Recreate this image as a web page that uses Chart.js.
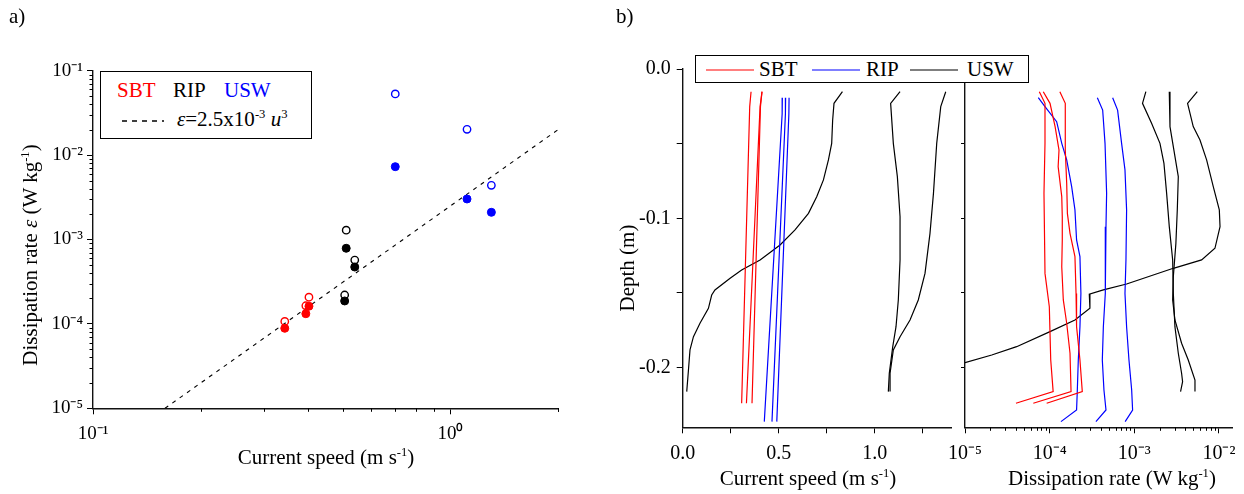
<!DOCTYPE html>
<html>
<head>
<meta charset="utf-8">
<script src="https://cdn.jsdelivr.net/npm/chart.js@4.4.1/dist/chart.umd.min.js"></script>
<style>
  body { margin: 0; background: #fff; }
  #fig { position: relative; width: 1244px; height: 494px; overflow: hidden;
         font-family: "Liberation Serif", "Times New Roman", serif; color: #000; }
  #fig canvas { position: absolute; left: 0; top: 0; }
  .t { position: absolute; white-space: nowrap; line-height: 1; font-size: 21px; }
  .t sup { font-size: 0.6em; position: relative; top: -0.6em; vertical-align: baseline; line-height: 0; }
  .box { position: absolute; border: 1px solid #000; background: #fff; box-sizing: border-box; }
  .mid { transform: translateX(-50%); }
  .rot { transform: translate(-50%, -50%) rotate(-90deg); }
</style>
</head>
<body>
<div id="fig">
  <canvas id="ca" width="1244" height="494"></canvas>
  <canvas id="cu" width="1244" height="494"></canvas>
  <canvas id="ce" width="1244" height="494"></canvas>

  <div class="t" style="left:9px;top:6px;">a)</div>
  <div class="t" style="left:616px;top:6px;">b)</div>

  <!-- panel a legend -->
  <div class="box" style="left:100px;top:71px;width:212px;height:68px;"></div>
  <div class="t" style="left:117px;top:80px;color:#f00;">SBT</div>
  <div class="t" style="left:173px;top:80px;">RIP</div>
  <div class="t" style="left:224px;top:80px;color:#00f;">USW</div>
  <svg style="position:absolute;left:121px;top:115px;" width="44" height="10">
    <line x1="1" y1="6" x2="43" y2="6" stroke="#000" stroke-width="1.3" stroke-dasharray="5,5"/>
  </svg>
  <div class="t" style="left:177px;top:109px;"><i>ε</i>=2.5x10<sup>-3</sup> <i>u</i><sup>3</sup></div>

  <!-- panel a axis titles -->
  <div class="t mid" style="left:326px;top:447px;">Current speed (m s<sup>-1</sup>)</div>
  <div class="t rot" style="left:30px;top:255px;">Dissipation rate <i>ε</i> (W kg<sup>-1</sup>)</div>

  <!-- panel b legend -->
  <div class="box" style="left:695px;top:55px;width:334px;height:28px;"></div>
  <svg style="position:absolute;left:700px;top:60px;" width="330" height="20">
    <line x1="6" y1="10" x2="54" y2="10" stroke="#f00" stroke-width="1.2"/>
    <line x1="112" y1="10" x2="160" y2="10" stroke="#00f" stroke-width="1.2"/>
    <line x1="210" y1="10" x2="258" y2="10" stroke="#000" stroke-width="1.2"/>
  </svg>
  <div class="t" style="left:759px;top:59px;">SBT</div>
  <div class="t" style="left:866px;top:59px;">RIP</div>
  <div class="t" style="left:967px;top:59px;">USW</div>

  <!-- panel b axis titles -->
  <div class="t rot" style="left:627px;top:268px;">Depth (m)</div>
  <div class="t mid" style="left:808px;top:468px;">Current speed (m s<sup>-1</sup>)</div>
  <div class="t mid" style="left:1112px;top:468px;">Dissipation rate (W kg<sup>-1</sup>)</div>
</div>

<script>
// ---------- panel a: dissipation vs current speed ----------
const sbtSpeed     = [0.344, 0.394, 0.402];
const sbtEpsOpen   = [1.07e-4, 1.64e-4, 2.07e-4];
const sbtEpsFilled = [8.87e-5, 1.32e-4, 1.62e-4];
const ripSpeed     = [0.511, 0.540, 0.506];
const ripEpsOpen   = [1.29e-3, 5.71e-4, 2.20e-4];
const ripEpsFilled = [7.87e-4, 4.72e-4, 1.87e-4];
const uswSpeed     = [0.701, 1.113, 1.302];
const uswEpsOpen   = [0.053, 0.0202, 4.39e-3];
const uswEpsFilled = [7.29e-3, 3.02e-3, 2.10e-3];
// eps = 2.5e-3 u^3, end points
const fitSpeed = [0.159, 2.0];
const fitEps   = [1.0e-5, 2.0e-2];

// ---------- panel b: current speed profiles ----------
const zSbtU  = [-0.0152, -0.0252, -0.2239];
const uSbt1  = [0.356, 0.349, 0.307];
const uSbt2  = [0.413, 0.403, 0.332];
const uSbt3  = [0.413, 0.405, 0.361];
const zRipU  = [-0.0192, -0.0300, -0.2362];
const uRip1  = [0.519, 0.518, 0.425];
const uRip2  = [0.536, 0.535, 0.465];
const uRip3  = [0.554, 0.553, 0.490];
const zUsw1U = [-0.0152, -0.0230, -0.0342, -0.0498, -0.0609, -0.0743, -0.0855, -0.0967, -0.1078, -0.1179, -0.1279,
                -0.1346, -0.1402, -0.1480, -0.1514, -0.1603, -0.1703, -0.1793, -0.1882, -0.2016, -0.2161];
const uUsw1  = [0.832, 0.788, 0.781, 0.776, 0.759, 0.733, 0.698, 0.655, 0.585, 0.507, 0.403,
                0.307, 0.247, 0.168, 0.151, 0.134, 0.090, 0.056, 0.038, 0.030, 0.021];
const zUsw2U = [-0.0152, -0.0230, -0.0498, -0.0721, -0.0989, -0.1279, -0.1547, -0.1726, -0.1860, -0.2038, -0.2161];
const uUsw2  = [1.132, 1.083, 1.097, 1.118, 1.132, 1.132, 1.123, 1.111, 1.094, 1.076, 1.071];
const zUsw3U = [-0.0152, -0.0252, -0.0498, -0.0833, -0.1101, -0.1369, -0.1547, -0.1681, -0.1793, -0.1882, -0.2038, -0.2161];
const uUsw3  = [1.370, 1.344, 1.323, 1.306, 1.288, 1.262, 1.227, 1.184, 1.132, 1.097, 1.080, 1.080];

// ---------- panel b: dissipation profiles ----------
const zSbt1E = [-0.0152, -0.0230, -0.0498, -0.0833, -0.1369, -0.1592, -0.1949, -0.2161, -0.2239];
const eSbt1  = [7.55e-5, 8.81e-5, 8.81e-5, 8.57e-5, 8.81e-5, 9.91e-5, 1.03e-4, 1.10e-4, 4.0e-5];
const zSbt2E = [-0.0152, -0.0230, -0.0386, -0.0543, -0.0654, -0.0855, -0.0989, -0.1145, -0.1324, -0.1547, -0.1703,
                -0.1904, -0.2161, -0.2239];
const eSbt2  = [8.41e-5, 1.01e-4, 1.16e-4, 1.29e-4, 1.26e-4, 1.39e-4, 1.41e-4, 1.41e-4, 1.39e-4, 1.45e-4, 1.59e-4,
                1.74e-4, 1.79e-4, 6.41e-5];
const zSbt3E = [-0.0152, -0.0230, -0.0543, -0.0766, -0.0967, -0.1101, -0.1257, -0.1503, -0.1726, -0.1949, -0.2161, -0.2239];
const eSbt3  = [1.32e-4, 1.53e-4, 1.53e-4, 1.59e-4, 1.62e-4, 1.74e-4, 1.99e-4, 2.05e-4, 2.08e-4, 2.28e-4, 2.43e-4, 9.22e-5];
const zRip1E = [-0.0192, -0.0252, -0.0353, -0.0498, -0.0609, -0.0788, -0.0944, -0.1145, -0.1257, -0.1503, -0.1726,
                -0.1949, -0.2161, -0.2284, -0.2362];
const eRip1  = [7.34e-5, 8.81e-5, 1.21e-4, 1.39e-4, 1.59e-4, 1.82e-4, 1.99e-4, 2.08e-4, 2.28e-4, 2.34e-4, 2.28e-4,
                2.18e-4, 2.12e-4, 2.08e-4, 1.36e-4];
const zRip2E = [-0.0192, -0.0275, -0.0498, -0.0833, -0.1056, -0.1279, -0.1503, -0.1726, -0.1949, -0.2150, -0.2284, -0.2362];
const eRip2  = [3.66e-4, 4.23e-4, 4.51e-4, 4.71e-4, 4.63e-4, 4.58e-4, 4.51e-4, 4.31e-4, 4.19e-4, 4.38e-4, 4.63e-4, 3.52e-4];
const zRip3E = [-0.0192, -0.0275, -0.0498, -0.0676, -0.0944, -0.1279, -0.1503, -0.1726, -0.1949, -0.2150, -0.2284, -0.2362];
const eRip3  = [5.55e-4, 6.35e-4, 7.08e-4, 7.76e-4, 8.11e-4, 7.97e-4, 7.76e-4, 8.11e-4, 8.65e-4, 9.31e-4, 9.55e-4, 7.80e-4];
const zUsw1E = [-0.0152, -0.0230, -0.0386, -0.0476, -0.0609, -0.0788, -0.0944, -0.1056, -0.1201, -0.1279, -0.1335,
                -0.1440, -0.1480, -0.1509, -0.1603, -0.1681, -0.1759, -0.1860, -0.1916, -0.1967];
const eUsw1  = [5.55e-3, 4.26e-3, 4.97e-3, 5.97e-3, 7.15e-3, 8.57e-3, 1.01e-2, 1.03e-2, 8.97e-3, 6.24e-3, 2.89e-3,
                8.11e-4, 4.31e-4, 2.94e-4, 2.99e-4, 1.99e-4, 1.01e-4, 4.07e-5, 2.07e-5, 1.0e-5];
const zUsw2E = [-0.0152, -0.0230, -0.0364, -0.0498, -0.0632, -0.0833, -0.1056, -0.1279, -0.1503, -0.1726, -0.1904,
                -0.2038, -0.2094, -0.2161];
const eUsw2  = [1.37e-3, 1.25e-3, 1.60e-3, 2.01e-3, 2.24e-3, 2.41e-3, 2.59e-3, 2.84e-3, 2.89e-3, 3.02e-3, 3.31e-3,
                3.62e-3, 3.72e-3, 3.52e-3];
const zUsw3E = [-0.0152, -0.0386, -0.0520, -0.0721, -0.0944, -0.1168, -0.1391, -0.1547, -0.1681, -0.1837, -0.1949,
                -0.2083, -0.2161];
const eUsw3  = [2.59e-3, 2.64e-3, 2.89e-3, 3.31e-3, 3.22e-3, 3.10e-3, 2.89e-3, 2.84e-3, 3.02e-3, 3.62e-3, 4.34e-3,
                5.21e-3, 5.21e-3];

// ---------- ticks ----------
const aDecadesY = [1e-5, 1e-4, 1e-3, 1e-2, 1e-1];
const aDecadesX = [0.1, 1];
const eDecades  = [1e-5, 1e-4, 1e-3, 1e-2];
const minorMult = [2, 3, 4, 5, 6, 7, 8, 9];
const depthTicks = [-0.2, -0.15, -0.1, -0.05, 0];
const depthLabels = ['-0.2', '', '-0.1', '', '0.0'];
const speedTicks = [0, 0.25, 0.5, 0.75, 1.0, 1.25];
const speedLabels = ['0.0', '', '0.5', '', '1.0', ''];

const RED = '#ff0000', BLUE = '#0000ff', BLACK = '#000000';
const FONT = "'Liberation Serif', 'Times New Roman', serif";
const SUP = { '-': '\u207B', '0': '\u2070', '1': '\u00B9', '2': '\u00B2', '3': '\u00B3',
              '4': '\u2074', '5': '\u2075', '6': '\u2076', '7': '\u2077', '8': '\u2078', '9': '\u2079' };

function pow10Label(v) {
  const e = Math.round(Math.log10(v));
  return '10' + String(e).split('').map(c => SUP[c]).join('');
}

function minorsOf(decades, upto) {
  const out = [];
  decades.forEach(d => minorMult.forEach(m => { if (d * m <= upto) out.push(d * m); }));
  return out;
}

function pts(xs, ys) {
  return xs.map((x, i) => ({ x: x, y: ys[i] }));
}

// short extra ticks between labelled ticks
const minorTicks = {
  id: 'minorTicks',
  afterDraw(chart, args, opts) {
    const ctx = chart.ctx;
    ctx.save();
    ctx.strokeStyle = '#000';
    ctx.lineWidth = 1;
    ctx.beginPath();
    Object.keys(opts.lists || {}).forEach(id => {
      const sc = chart.scales[id];
      opts.lists[id].forEach(v => {
        const p = Math.round(sc.getPixelForValue(v)) + 0.5;
        if (sc.isHorizontal()) { ctx.moveTo(p, sc.top); ctx.lineTo(p, sc.top + 3.5); }
        else { ctx.moveTo(sc.right, p); ctx.lineTo(sc.right - 3.5, p); }
      });
    });
    ctx.stroke();
    ctx.restore();
  }
};

// fixed axis box size, so the plot area lands where the layout padding puts it
function axis(size, o) {
  return Object.assign({
    border: { display: true, color: '#111', width: 1.4 },
    grid: { display: true, drawOnChartArea: false, drawTicks: true, tickLength: 6, color: '#000', tickColor: '#000', tickWidth: 1 },
    afterFit: sc => { if (sc.isHorizontal()) sc.height = size; else sc.width = size; }
  }, o);
}

function tickFont(size) {
  return { font: { family: FONT, size: size }, color: '#000', autoSkip: false, maxRotation: 0, minRotation: 0 };
}

function baseOptions(pad, scales, minors) {
  return {
    responsive: false,
    animation: false,
    events: [],
    devicePixelRatio: 1,
    layout: { padding: pad },
    plugins: { legend: { display: false }, tooltip: { enabled: false }, minorTicks: { lists: minors } },
    scales: scales
  };
}

function line(xs, ys, color) {
  return { data: pts(xs, ys), showLine: true, borderColor: color, borderWidth: 1.2, pointRadius: 0, fill: false, tension: 0 };
}

function dots(xs, ys, color, filled) {
  return {
    data: pts(xs, ys), showLine: false, pointStyle: 'circle',
    pointRadius: filled ? 4 : 3.7, pointBorderWidth: filled ? 1 : 1.4,
    pointBackgroundColor: filled ? color : 'rgba(0,0,0,0)', pointBorderColor: color,
    order: filled ? 0 : 1
  };
}

// ---------- chart a ----------
new Chart(document.getElementById('ca'), {
  type: 'scatter',
  data: {
    datasets: [
      dots(sbtSpeed, sbtEpsFilled, RED, true),
      dots(ripSpeed, ripEpsFilled, BLACK, true),
      dots(uswSpeed, uswEpsFilled, BLUE, true),
      dots(sbtSpeed, sbtEpsOpen, RED, false),
      dots(ripSpeed, ripEpsOpen, BLACK, false),
      dots(uswSpeed, uswEpsOpen, BLUE, false),
      Object.assign(line(fitSpeed, fitEps, BLACK), { borderDash: [4, 5], borderWidth: 1.1, order: 2 })
    ]
  },
  options: baseOptions(
    { left: 3, top: 70.7, right: 686, bottom: 5.7 },
    {
      x: axis(80, {
        type: 'logarithmic', min: 0.1, max: 2,
        afterBuildTicks: sc => { sc.ticks = aDecadesX.map(v => ({ value: v })); },
        ticks: Object.assign(tickFont(19), { padding: 8, callback: v => pow10Label(v) })
      }),
      y: axis(90, {
        type: 'logarithmic', min: 1e-5, max: 0.1,
        afterBuildTicks: sc => { sc.ticks = aDecadesY.map(v => ({ value: v })); },
        ticks: Object.assign(tickFont(19), { padding: 4, callback: v => pow10Label(v) })
      })
    },
    { x: minorsOf(aDecadesX, 2).concat([2]), y: minorsOf(aDecadesY.slice(0, 4), 0.1) }
  ),
  plugins: [minorTicks]
});

// ---------- chart b, current speed ----------
new Chart(document.getElementById('cu'), {
  type: 'scatter',
  data: {
    datasets: [
      line(uSbt1, zSbtU, RED), line(uSbt2, zSbtU, RED), line(uSbt3, zSbtU, RED),
      line(uRip1, zRipU, BLUE), line(uRip2, zRipU, BLUE), line(uRip3, zRipU, BLUE),
      line(uUsw1, zUsw1U, BLACK), line(uUsw2, zUsw2U, BLACK), line(uUsw3, zUsw3U, BLACK)
    ]
  },
  options: baseOptions(
    { left: 612.7, top: 69, right: 292.5, bottom: 6.7 },
    {
      x: axis(60, {
        type: 'linear', min: 0, max: 1.4,
        afterBuildTicks: sc => { sc.ticks = speedTicks.map(v => ({ value: v })); },
        ticks: Object.assign(tickFont(20), { padding: 8, callback: (v, i) => speedLabels[i] })
      }),
      y: axis(70, {
        type: 'linear', min: -0.24, max: 0,
        afterBuildTicks: sc => { sc.ticks = depthTicks.map(v => ({ value: v })); },
        ticks: Object.assign(tickFont(20), { padding: 6, callback: (v, i) => depthLabels[i] })
      })
    },
    {}
  ),
  plugins: [minorTicks]
});

// ---------- chart b, dissipation rate ----------
new Chart(document.getElementById('ce'), {
  type: 'scatter',
  data: {
    datasets: [
      line(eSbt1, zSbt1E, RED), line(eSbt2, zSbt2E, RED), line(eSbt3, zSbt3E, RED),
      line(eRip1, zRip1E, BLUE), line(eRip2, zRip2E, BLUE), line(eRip3, zRip3E, BLUE),
      line(eUsw1, zUsw1E, BLACK), line(eUsw2, zUsw2E, BLACK), line(eUsw3, zUsw3E, BLACK)
    ]
  },
  options: baseOptions(
    { left: 955, top: 69, right: 10.7, bottom: 6.7 },
    {
      x: axis(60, {
        type: 'logarithmic', min: 1e-5, max: 0.0146,
        afterBuildTicks: sc => { sc.ticks = eDecades.map(v => ({ value: v })); },
        ticks: Object.assign(tickFont(20), { padding: 8, callback: v => pow10Label(v) })
      }),
      y: axis(10, {
        type: 'linear', min: -0.24, max: 0,
        grid: { display: true, drawOnChartArea: false, drawTicks: true, tickLength: 4, color: '#000', tickColor: '#000', tickWidth: 1 },
        afterBuildTicks: sc => { sc.ticks = depthTicks.map(v => ({ value: v })); },
        ticks: Object.assign(tickFont(20), { padding: 4, callback: () => '' })
      })
    },
    { x: minorsOf(eDecades.slice(0, 3), 0.0146) }
  ),
  plugins: [minorTicks]
});
</script>
</body>
</html>
